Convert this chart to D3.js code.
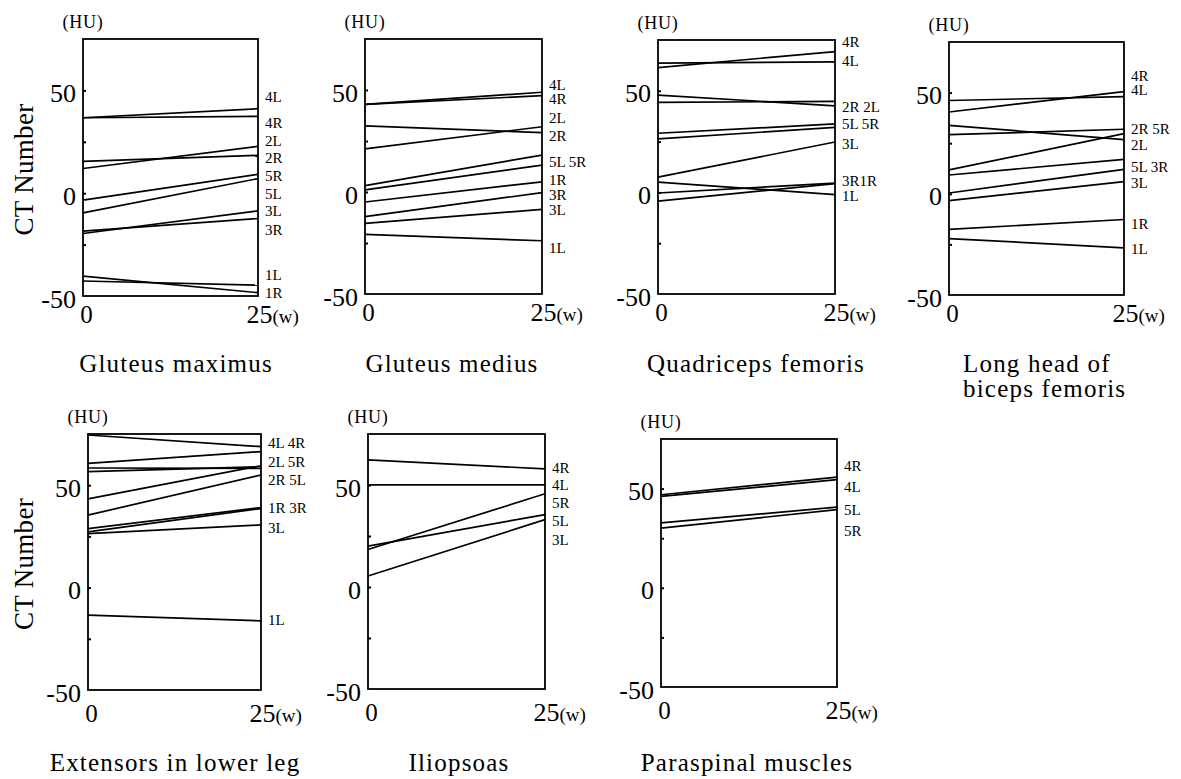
<!DOCTYPE html>
<html>
<head>
<meta charset="utf-8">
<script src="https://cdn.jsdelivr.net/npm/d3@7"></script>
<style>
  body { margin: 0; background: #fff; }
  svg { display: block; }
  text { font-family: "Liberation Serif", "Times New Roman", serif; fill: #000; }
</style>
</head>
<body>
<svg id="chart" width="1181" height="779"></svg>
<script>
// ---------------- DATA ----------------
const weeks = [0, 25];                 // x positions (weeks)
const yTickValues = [50, 0, -50];      // labelled ticks (HU)
const yMinorTicks = [50, 25, 0, -25];  // small inner ticks
const yDomain = [-50, 75];

// Gluteus maximus
const glutMaxNames = ["4L", "4R", "2L", "2R", "5R", "5L", "3L", "3R", "1R", "1L"];
const glutMaxStart = [36.7, 36.7, 12.0, 15.5, -3.4, -9.6, -19.6, -18.4, -40.3, -42.7];
const glutMaxEnd   = [41.1, 37.4, 22.8, 18.4, 9.2, 7.1, -8.6, -12.3, -48.4, -44.7];
const glutMaxLabels   = ["4L", "4R", "2L", "2R", "5R", "5L", "3L", "3R", "1L", "1R"];
const glutMaxLabelAt  = [46.8, 34.1, 25.2, 17.2, 8.6, -0.2, -8.8, -18.0, -39.8, -48.4];

// Gluteus medius
const glutMedNames = ["4L", "4R", "2L", "2R", "5L", "5R", "1R", "3R", "3L", "1L"];
const glutMedStart = [43.0, 43.0, 21.1, 32.4, 3.1, 1.0, -4.9, -12.1, -15.4, -20.8];
const glutMedEnd   = [48.9, 47.2, 32.0, 29.1, 18.1, 13.2, 5.0, -0.3, -8.5, -23.9];
const glutMedLabels  = ["4L", "4R", "2L", "2R", "5L 5R", "1R", "3R", "3L", "1L"];
const glutMedLabelAt = [52.6, 45.4, 36.1, 27.5, 14.9, 6.0, -1.6, -9.0, -27.6];

// Quadriceps femoris
const quadNames = ["4R", "4L", "2R", "2L", "5L", "5R", "3L", "3R", "1R", "1L"];
const quadStart = [61.4, 63.6, 47.9, 44.3, 29.1, 26.3, 7.5, -0.3, -4.3, 5.1];
const quadEnd   = [69.3, 64.2, 42.6, 44.8, 33.7, 32.0, 24.8, 4.6, 4.3, -1.1];
const quadLabels  = ["4R", "4L", "2R 2L", "5L 5R", "3L", "3R1R", "1L"];
const quadLabelAt = [74.2, 64.9, 42.2, 33.7, 24.0, 5.6, -2.0];

// Long head of biceps femoris
const bicepsNames = ["4R", "4L", "2R", "5R", "2L", "5L", "3R", "3L", "1R", "1L"];
const bicepsStart = [40.4, 46.1, 29.2, 11.8, 33.8, 9.3, 0.4, -3.4, -17.6, -22.1];
const bicepsEnd   = [50.5, 48.0, 31.9, 29.7, 26.8, 17.0, 12.1, 6.0, -12.7, -26.7];
const bicepsLabels  = ["4R", "4L", "2R 5R", "2L", "5L 3R", "3L", "1R", "1L"];
const bicepsLabelAt = [58.0, 51.2, 32.2, 24.0, 13.0, 5.2, -15.0, -27.3];

// Extensors in lower leg
const extNames = ["4L", "4R", "2L", "5R", "2R", "5L", "1R", "3R", "3L", "1L"];
const extStart = [74.5, 60.7, 58.4, 56.6, 43.3, 35.4, 28.8, 27.2, 26.4, -13.4];
const extEnd   = [68.8, 66.4, 58.2, 59.0, 59.5, 55.0, 39.1, 38.6, 30.6, -16.2];
const extLabels  = ["4L 4R", "2L 5R", "2R 5L", "1R 3R", "3L", "1L"];
const extLabelAt = [70.4, 61.5, 52.5, 38.7, 28.9, -15.8];

// Iliopsoas
const ilioNames = ["4R", "4L", "5R", "5L", "3L"];
const ilioStart = [62.3, 50.1, 18.4, 20.0, 5.4];
const ilioEnd   = [57.9, 50.1, 45.7, 35.5, 33.0];
const ilioLabels  = ["4R", "4L", "5R", "5L", "3L"];
const ilioLabelAt = [58.4, 49.8, 41.1, 32.2, 23.2];

// Paraspinal muscles
const paraNames = ["4R", "4L", "5L", "5R"];
const paraStart = [46.9, 46.1, 32.7, 30.1];
const paraEnd   = [55.8, 54.5, 40.7, 39.4];
const paraLabels  = ["4R", "4L", "5L", "5R"];
const paraLabelAt = [61.5, 50.8, 39.4, 28.8];

// ---------------- LAYOUT ----------------
const panels = [
  { title: ["Gluteus maximus"], names: glutMaxNames, start: glutMaxStart, end: glutMaxEnd,
    labels: glutMaxLabels, labelAt: glutMaxLabelAt,
    box: { left: 83, top: 39, bottom: 296, width: 175 }, row: 0,
    titlePos: { x: 176, y: 372, anchor: "middle" }, yTitle: true },
  { title: ["Gluteus medius"], names: glutMedNames, start: glutMedStart, end: glutMedEnd,
    labels: glutMedLabels, labelAt: glutMedLabelAt,
    box: { left: 365, top: 39, bottom: 294, width: 177 }, row: 0,
    titlePos: { x: 452, y: 372, anchor: "middle" } },
  { title: ["Quadriceps femoris"], names: quadNames, start: quadStart, end: quadEnd,
    labels: quadLabels, labelAt: quadLabelAt,
    box: { left: 658, top: 40, bottom: 294, width: 177 }, row: 0,
    titlePos: { x: 756, y: 372, anchor: "middle" } },
  { title: ["Long head of", "biceps femoris"], names: bicepsNames, start: bicepsStart, end: bicepsEnd,
    labels: bicepsLabels, labelAt: bicepsLabelAt,
    box: { left: 949, top: 42, bottom: 295, width: 175 }, row: 0,
    titlePos: { x: 963, y: 372, anchor: "start" } },
  { title: ["Extensors in lower leg"], names: extNames, start: extStart, end: extEnd,
    labels: extLabels, labelAt: extLabelAt,
    box: { left: 88, top: 434, bottom: 690, width: 173 }, row: 1,
    titlePos: { x: 175, y: 771, anchor: "middle" }, yTitle: true },
  { title: ["Iliopsoas"], names: ilioNames, start: ilioStart, end: ilioEnd,
    labels: ilioLabels, labelAt: ilioLabelAt,
    box: { left: 368, top: 434, bottom: 689, width: 177 }, row: 1,
    titlePos: { x: 459, y: 771, anchor: "middle" } },
  { title: ["Paraspinal muscles"], names: paraNames, start: paraStart, end: paraEnd,
    labels: paraLabels, labelAt: paraLabelAt,
    box: { left: 661, top: 439, bottom: 687, width: 176 }, row: 1,
    titlePos: { x: 747, y: 771, anchor: "middle" } }
];

const fmt = d => String(d);   // plain hyphen minus like the original
const svg = d3.select("#chart");

panels.forEach(p => {
  const b = p.box;
  const x = d3.scaleLinear().domain([weeks[0], weeks[1]]).range([b.left, b.left + b.width]);
  const y = d3.scaleLinear().domain(yDomain).range([b.bottom, b.top]);
  const g = svg.append("g");

  // data lines
  const series = p.names.map((n, i) => ({ name: n, values: [p.start[i], p.end[i]] }));
  const line = d3.line().x((d, i) => x(weeks[i])).y(d => y(d));
  g.selectAll("path.series").data(series).join("path")
    .attr("class", "series")
    .attr("d", d => line(d.values))
    .attr("fill", "none")
    .attr("stroke", "#000")
    .attr("stroke-width", 1.7);

  // frame
  g.append("rect")
    .attr("x", x(weeks[0])).attr("y", y(yDomain[1]))
    .attr("width", x(weeks[1]) - x(weeks[0]))
    .attr("height", y(yDomain[0]) - y(yDomain[1]))
    .attr("fill", "none").attr("stroke", "#000").attr("stroke-width", 1.8);

  // minor inner ticks
  const minor = d3.axisLeft(y).tickValues(yMinorTicks).tickSize(-3).tickFormat("");
  g.append("g").attr("transform", `translate(${b.left},0)`).call(minor)
    .call(s => s.select(".domain").remove())
    .selectAll("line").attr("stroke", "#000").attr("stroke-width", 2);

  // y tick labels
  const yAxis = d3.axisLeft(y).tickValues(yTickValues).tickSize(0).tickPadding(7).tickFormat(fmt);
  const ya = g.append("g").attr("transform", `translate(${b.left},0)`).call(yAxis);
  ya.select(".domain").remove();
  ya.selectAll("text")
    .attr("dy", null).attr("y", 11)
    .style("font-size", "26px")
    .style("font-family", "'Liberation Serif', serif")
    .attr("fill", "#000");

  // x tick labels
  const xAxis = d3.axisBottom(x).tickValues(weeks).tickSize(0).tickPadding(0).tickFormat(fmt);
  const xa = g.append("g").attr("transform", `translate(0,${b.bottom})`).call(xAxis);
  xa.select(".domain").remove();
  const xOff = p.row === 0 ? 27 : 32;
  xa.selectAll("text")
    .attr("dy", null).attr("y", xOff)
    .style("font-family", "'Liberation Serif', serif")
    .attr("fill", "#000")
    .each(function (d) {
      const t = d3.select(this);
      if (d === weeks[0]) {
        t.attr("x", 3).style("font-size", "25px");
      } else {
        t.text(null).attr("text-anchor", "start").attr("x", -12);
        t.append("tspan").style("font-size", "26px").text(fmt(d));
        t.append("tspan").style("font-size", "19px").text("(w)");
      }
    });

  // (HU) unit label
  g.append("text")
    .attr("x", b.left).attr("y", b.top - 11)
    .attr("text-anchor", "middle")
    .style("font-size", "18px").style("letter-spacing", "0.8px")
    .text("(HU)");

  // line labels at right
  g.selectAll("text.lbl").data(p.labels.map((t, i) => ({ t, v: p.labelAt[i] }))).join("text")
    .attr("class", "lbl")
    .attr("x", b.left + b.width + 7)
    .attr("y", d => y(d.v) + 5)
    .style("font-size", "15px")
    .text(d => d.t);

  // panel title
  p.title.forEach((t, i) => {
    g.append("text")
      .attr("x", p.titlePos.x).attr("y", p.titlePos.y + i * 25)
      .attr("text-anchor", p.titlePos.anchor)
      .style("font-size", "25px").style("letter-spacing", "1.2px")
      .text(t);
  });

  // y axis title
  if (p.yTitle) {
    const cy = (b.top + b.bottom) / 2 + 2;
    g.append("text")
      .attr("transform", `translate(33,${cy}) rotate(-90)`)
      .attr("text-anchor", "middle")
      .style("font-size", "27px").style("letter-spacing", "0.3px")
      .text("CT Number");
  }
});
</script>
</body>
</html>
